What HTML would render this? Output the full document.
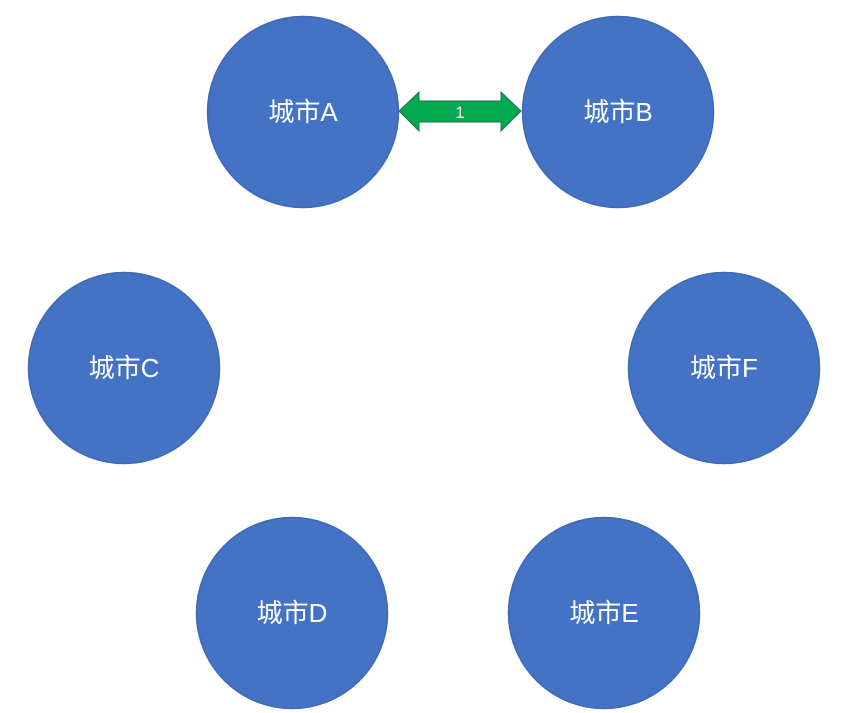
<!DOCTYPE html>
<html><head><meta charset="utf-8"><style>
html,body{margin:0;padding:0;background:#fff;width:850px;height:713px;overflow:hidden}
svg{display:block}
text{font-family:"Liberation Sans","Noto Sans CJK SC",sans-serif;fill:#fff}
</style></head><body>
<svg width="850" height="713" viewBox="0 0 850 713">
<g fill="#4472C4" stroke="#3f69b4" stroke-width="1.5">
<circle cx="303" cy="112" r="95.5"/>
<circle cx="618" cy="112" r="95.5"/>
<circle cx="124" cy="368" r="95.5"/>
<circle cx="724" cy="368" r="95.5"/>
<circle cx="292" cy="613" r="95.5"/>
<circle cx="604" cy="613" r="95.5"/>
</g>
<g font-size="26" text-anchor="middle">
<text x="303" y="121">城市A</text>
<text x="618" y="121">城市B</text>
<text x="124" y="377">城市C</text>
<text x="724" y="377">城市F</text>
<text x="292" y="622">城市D</text>
<text x="604" y="622">城市E</text>
</g>
<polygon points="399,111 419,92 419,101 501,101 501,92 521,111 501,131 501,122 419,122 419,131" fill="#00A94F" stroke="#2f6e4a" stroke-width="1"/>
<text x="460" y="118" font-size="17" text-anchor="middle" style="fill:#fff">1</text>
</svg>
</body></html>
